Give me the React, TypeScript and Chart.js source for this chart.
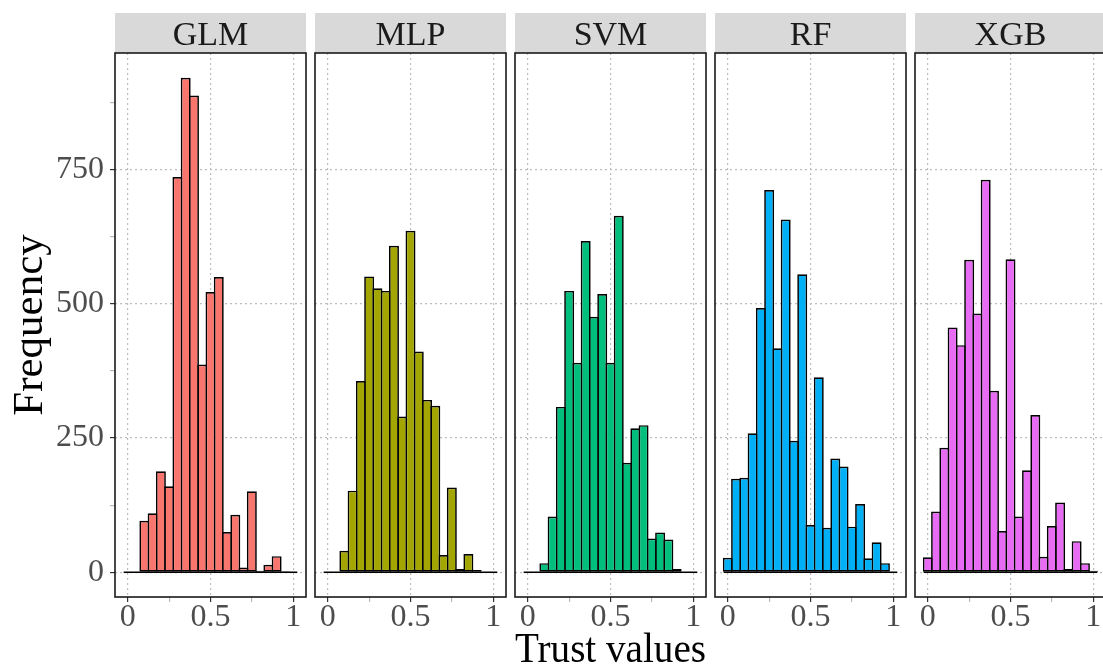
import React, { useEffect, useRef } from 'react';
import { Chart, registerables } from 'chart.js';

Chart.register(...registerables);

// ---------- data ----------
const binCenters = [0, 0.05, 0.1, 0.15, 0.2, 0.25, 0.3, 0.35, 0.4, 0.45, 0.5, 0.55, 0.6, 0.65, 0.7, 0.75, 0.8, 0.85, 0.9, 0.95, 1.0];
const binWidth = 0.05;
const modelNames = ['GLM', 'MLP', 'SVM', 'RF', 'XGB'];
const glmCounts = [0, 0, 96, 110, 188, 160, 736, 921, 888, 387, 522, 550, 75, 107, 9, 151, 3, 14, 30, 2, 0];
const mlpCounts = [0, 0, 40, 152, 356, 551, 529, 524, 608, 290, 636, 411, 321, 310, 32, 158, 6, 34, 4, 0, 0];
const svmCounts = [0, 0, 17, 104, 308, 524, 390, 617, 476, 518, 390, 664, 204, 268, 274, 63, 74, 61, 6, 0, 0];
const rfCounts = [27, 174, 176, 259, 492, 712, 417, 657, 245, 555, 88, 363, 83, 212, 197, 85, 127, 26, 56, 17, 0];
const xgbCounts = [28, 113, 232, 456, 423, 582, 482, 731, 338, 77, 583, 104, 190, 293, 29, 86, 130, 6, 58, 17, 3];
const fillColors = ['#F8766D', '#A3A500', '#00BF7D', '#00B0F6', '#E76BF3'];
const xTickValues = [0, 0.5, 1];
const xMinorTickValues = [0.25, 0.75];
const yTickValues = [0, 250, 500, 750];
const yMinorTickValues = [125, 375, 625, 875];
const xAxisTitle = 'Trust values';
const yAxisTitle = 'Frequency';

const seriesCounts = [glmCounts, mlpCounts, svmCounts, rfCounts, xgbCounts];

// ---------- layout / style ----------
const FONT = "'Liberation Serif', 'Times New Roman', serif";
const CANVAS_H = 680;
const STRIP_TOP = 13;
const PANEL_TOP = 53;
const PANEL_BOTTOM = 597;
const PANEL_LEFT0 = 115;
const PANEL_W = 191;
const PANEL_STEP = 200;
const SIDE = 6;
const BORDER = 1.7;
const GRID_COLOR = '#BDBDBD';

// axis limits (ggplot-style 5% expansion)
const xLo = binCenters[0] - binWidth / 2;
const xHi = binCenters[binCenters.length - 1] + binWidth / 2;
const xPad = (xHi - xLo) * 0.05;
const yTop = Math.max(...seriesCounts.flat());
const yPad = yTop * 0.05;

function buildTicks(major: number[], minor: number[]) {
  return [...major.map((v) => ({ value: v, major: true })), ...minor.map((v) => ({ value: v, major: false }))].sort(
    (a, b) => a.value - b.value
  );
}

function Panel({ index }: { index: number }) {
  const ref = useRef<HTMLCanvasElement>(null);
  const isFirst = index === 0;
  const isMid = index === 2;
  const left = isFirst ? 0 : PANEL_LEFT0 + PANEL_STEP * index - SIDE;
  const width = isFirst ? PANEL_LEFT0 + PANEL_W + SIDE : PANEL_W + 2 * SIDE;

  useEffect(() => {
    if (!ref.current) return;
    const counts = seriesCounts[index];
    const label = modelNames[index];
    const barPx = (binWidth * PANEL_W) / (xHi - xLo + 2 * xPad);

    const decor = {
      id: 'panelDecor',
      afterDraw(chart: any) {
        const { ctx, chartArea: a } = chart;
        ctx.save();
        ctx.fillStyle = '#D9D9D9';
        ctx.fillRect(a.left, STRIP_TOP, a.right - a.left, a.top - STRIP_TOP);
        ctx.fillStyle = '#1A1A1A';
        ctx.font = `34px ${FONT}`;
        ctx.textAlign = 'center';
        ctx.textBaseline = 'alphabetic';
        ctx.fillText(label, (a.left + a.right) / 2, 44.5);
        ctx.strokeStyle = '#1A1A1A';
        ctx.lineWidth = 1.6;
        ctx.strokeRect(a.left, a.top, a.right - a.left, a.bottom - a.top);
        ctx.restore();
      },
    };

    const isMajorX = (v: number) => xTickValues.includes(v);
    const isMajorY = (v: number) => yTickValues.includes(v);

    const chart = new Chart(ref.current, {
      type: 'bar',
      data: {
        datasets: [
          {
            type: 'line',
            data: [
              { x: xLo, y: 0 },
              { x: xHi, y: 0 },
            ],
            borderColor: '#000000',
            borderWidth: BORDER,
            pointRadius: 0,
            fill: false,
            order: 0,
          } as any,
          {
            type: 'bar',
            data: binCenters.map((c, i) => ({ x: c, y: counts[i] })),
            backgroundColor: fillColors[index],
            borderColor: '#000000',
            borderWidth: BORDER,
            borderSkipped: false,
            barPercentage: 1 + BORDER / barPx,
            categoryPercentage: 1,
            order: 1,
          } as any,
        ],
      },
      options: {
        responsive: false,
        animation: false,
        devicePixelRatio: 1,
        layout: { padding: { left: isFirst ? 0 : SIDE, right: SIDE, top: PANEL_TOP, bottom: 0 } },
        plugins: {
          legend: { display: false },
          tooltip: { enabled: false },
          title: { display: false },
        },
        scales: {
          x: {
            type: 'linear',
            min: xLo - xPad,
            max: xHi + xPad,
            offset: false,
            afterBuildTicks: (s: any) => {
              s.ticks = buildTicks(xTickValues, xMinorTickValues);
            },
            afterFit: (s: any) => {
              s.height = CANVAS_H - PANEL_BOTTOM;
            },
            ticks: {
              callback: (v: any) => (isMajorX(v) ? String(v) : ''),
              color: '#4D4D4D',
              font: { family: FONT, size: 32, lineHeight: 1 },
              padding: 0,
              maxRotation: 0,
              autoSkip: false,
            },
            grid: {
              offset: false,
              color: (c: any) => (c.tick && isMajorX(c.tick.value) ? GRID_COLOR : 'rgba(0,0,0,0)'),
              lineWidth: 1.2,
              drawTicks: true,
              tickLength: 5,
              tickColor: (c: any) => (c.tick && isMajorX(c.tick.value) ? '#333333' : '#B8B8B8'),
              tickWidth: 1.2,
              tickBorderDash: [],
            },
            border: { display: false, dash: [2, 3] },
            title: {
              display: isMid,
              text: xAxisTitle,
              color: '#000000',
              font: { family: FONT, size: 43, lineHeight: 1.2 },
              padding: { top: 0, bottom: 3 },
            },
          },
          y: {
            type: 'linear',
            min: -yPad,
            max: yTop + yPad,
            afterBuildTicks: (s: any) => {
              s.ticks = buildTicks(yTickValues, yMinorTickValues);
            },
            afterFit: (s: any) => {
              s.width = isFirst ? PANEL_LEFT0 : 0;
            },
            ticks: {
              display: isFirst,
              callback: (v: any) => (isMajorY(v) ? String(v) : ''),
              color: '#4D4D4D',
              font: { family: FONT, size: 32 },
              padding: 6,
              autoSkip: false,
            },
            grid: {
              offset: false,
              color: (c: any) => (c.tick && isMajorY(c.tick.value) ? GRID_COLOR : 'rgba(0,0,0,0)'),
              lineWidth: 1.2,
              drawTicks: isFirst,
              tickLength: 5,
              tickColor: (c: any) => (c.tick && isMajorY(c.tick.value) ? '#333333' : '#B8B8B8'),
              tickWidth: 1.2,
              tickBorderDash: [],
            },
            border: { display: false, dash: [2, 3] },
            title: {
              display: isFirst,
              text: yAxisTitle,
              color: '#000000',
              font: { family: FONT, size: 43, lineHeight: 1.2 },
              padding: { top: 5, bottom: 0 },
            },
          },
        },
      } as any,
      plugins: [decor],
    });
    return () => chart.destroy();
  }, [index]);

  return (
    <canvas
      ref={ref}
      width={width}
      height={CANVAS_H}
      style={{ position: 'absolute', left, top: 0, width, height: CANVAS_H }}
    />
  );
}

export default function App() {
  return (
    <div
      style={{
        position: 'absolute',
        left: 0,
        top: 0,
        width: 1103,
        height: 669,
        overflow: 'hidden',
        background: '#ffffff',
      }}
    >
      {modelNames.map((_, i) => (
        <Panel key={i} index={i} />
      ))}
    </div>
  );
}
